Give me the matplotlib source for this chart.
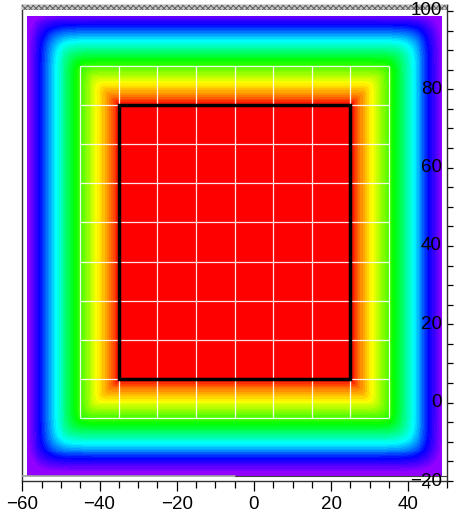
import colorsys
import numpy as np
import matplotlib
matplotlib.use("Agg")
import matplotlib.pyplot as plt
from matplotlib.colors import ListedColormap
from matplotlib.patches import Rectangle
from matplotlib.ticker import MultipleLocator
from matplotlib import transforms

plt.rcParams['font.family'] = ['Liberation Sans', 'DejaVu Sans']
plt.rcParams['hatch.linewidth'] = 0.7

# area covered by the coloured map
map_x = [-58.7, 48.5]
map_y = [-18.6, 98.7]
# plateau = black box
box_x = [-35, 25]
box_y = [6, 76]
# white grid
grid_x = [-45, -35, -25, -15, -5, 5, 15, 25, 35]
grid_y = [-4, 6, 16, 26, 36, 46, 56, 66, 76, 86]
# fall-off of the level with distance from the box
fall_dist = [0, 2.2, 5.5, 11.5, 16.5, 20.5, 24]
fall_level = [1.0, 0.89, 0.78, 0.56, 0.34, 0.125, 0.0]
# axis ticks
xtick_vals = [-60, -40, -20, 0, 20, 40]
ytick_vals = [-20, 0, 20, 40, 60, 80, 100]

#ROOT "pretty" palette, violet -> red, 50 colours
pal = [colorsys.hls_to_rgb((280 - (i + 1) * 5.6) / 360.0, 0.5, 1.0) for i in range(50)]
cmap = ListedColormap(pal)

xs = np.linspace(map_x[0], map_x[1], 430)
ys = np.linspace(map_y[0], map_y[1], 470)
X, Y = np.meshgrid(xs, ys)
dx = np.clip(np.maximum(box_x[0] - X, X - box_x[1]), 0, None)
dy = np.clip(np.maximum(box_y[0] - Y, Y - box_y[1]), 0, None)
d = (dx**8 + dy**8) ** 0.125
Z = np.interp(d, fall_dist, fall_level)

fig = plt.figure(figsize=(4.56, 5.13), dpi=100)
ax = fig.add_axes([22.3 / 456, 32 / 513, (447 - 22.3) / 456, (481 - 5) / 513])

ax.pcolormesh(xs, ys, Z, cmap=cmap, vmin=0, vmax=1, shading='auto', rasterized=True)

ax.vlines(grid_x, grid_y[0], grid_y[-1], colors='white', lw=0.9, alpha=0.9, zorder=3)
ax.hlines(grid_y, grid_x[0], grid_x[-1], colors='white', lw=0.9, alpha=0.9, zorder=3)

ax.add_patch(Rectangle((box_x[0], box_y[0]), box_x[1] - box_x[0], box_y[1] - box_y[0],
                       fill=False, ec='black', lw=2.5, zorder=5))

ytop = 100 + 6 / 3.917
ax.set_xlim(-60, 50)
ax.set_ylim(-20, ytop)

#hatched strip on top of the frame
ax.add_patch(Rectangle((-60, 100.2), 110, ytop - 100.2, facecolor='#c4c4c4',
                       edgecolor='#606060', hatch='xxxxxx', lw=0, zorder=4, clip_on=False))
ax.plot([-60, -5], [-18.85, -18.85], color='#a0a0a0', lw=1.2, zorder=4)
ax.plot([-5, 50], [-18.7, -18.7], color='#404040', lw=0.8, zorder=4)

for s in ax.spines.values():
    s.set_linewidth(1.0)
    s.set_color('#303030')

ax.set_xticks(xtick_vals)
ax.xaxis.set_minor_locator(MultipleLocator(5))
ax.tick_params(axis='x', which='major', direction='out', length=7, width=0.9, labelsize=13.5, pad=4)
ax.tick_params(axis='x', which='minor', direction='out', length=5, width=0.9)
ax.tick_params(axis='x', top=False)

ax.yaxis.tick_right()
ax.set_yticks(ytick_vals)
ax.yaxis.set_minor_locator(MultipleLocator(5))
ax.tick_params(axis='y', which='both', direction='out', length=4.5, width=0.9,
               right=True, left=False, labelright=False, labelleft=False)

#y labels sit inside the frame, left of the right axis
trans = transforms.blended_transform_factory(ax.transAxes, ax.transData)
trans = transforms.offset_copy(trans, fig=fig, x=-5, y=0, units='dots')
for v in ytick_vals:
    ax.text(1.0, v, str(v).replace('-', '\u2212'), transform=trans, ha='right',
            va='center', fontsize=13.5, zorder=6)

plt.savefig("out.png", dpi=100)
